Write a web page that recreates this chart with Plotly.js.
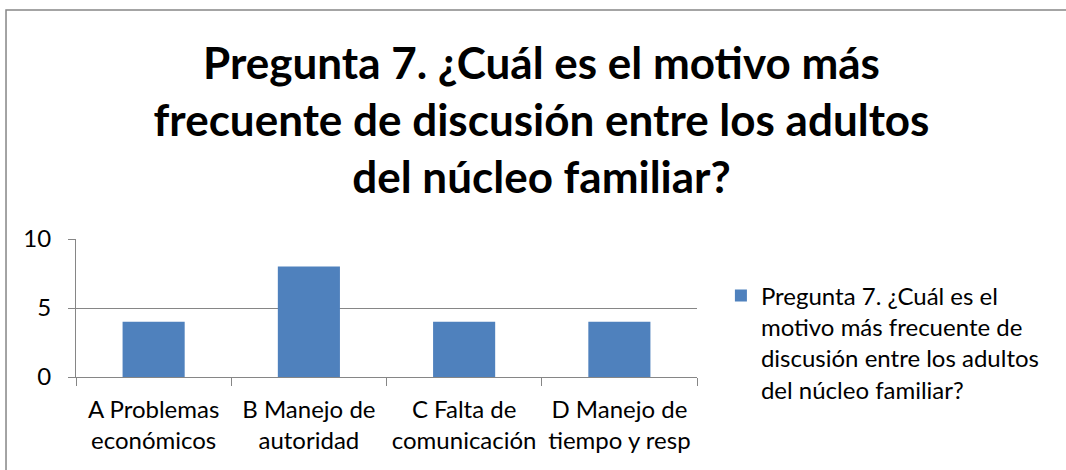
<!DOCTYPE html>
<html>
<head>
<meta charset="utf-8">
<script src="https://cdn.plot.ly/plotly-3.0.1.min.js"></script>
<style>
  body { margin: 0; background: #fff; }
  #chart { width: 1066px; height: 470px; }
</style>
</head>
<body>
<div id="chart"></div>
<script>
// Datos del gráfico
var categorias = [
    'A Problemas<br>económicos',
    'B Manejo de<br>autoridad',
    'C Falta de<br>comunicación',
    'D Manejo de<br>tiempo y resp'
];
var valores = [4, 8, 4, 4];
var nombreSerie = 'Pregunta 7. ¿Cuál es el<br>motivo más frecuente de<br>discusión entre los adultos<br>del núcleo familiar?';
var titulo = 'Pregunta 7. ¿Cuál es el motivo más<br>frecuente de discusión entre los adultos<br>del núcleo familiar?';

var CHART = document.getElementById('chart');

var data = [{
    x: categorias,
    y: valores,
    type: 'bar',
    name: nombreSerie,
    marker: { color: '#4F81BD' },
    showlegend: true
}];

var layout = {
    width: 1066,
    height: 470,
    margin: { l: 76, r: 369, t: 239, b: 93 },
    paper_bgcolor: '#ffffff',
    plot_bgcolor: '#ffffff',
    font: { family: 'Lato, "Open Sans", sans-serif', size: 24, color: '#000000' },
    title: {
        text: titulo,
        font: { family: 'Lato, "Open Sans", sans-serif', size: 44, color: '#000000', weight: 'bold' },
        xref: 'container', yref: 'container',
        x: 0.508, y: 1 - 79 / 470,
        xanchor: 'center', yanchor: 'top'
    },
    bargap: 0.6,
    xaxis: {
        showgrid: false,
        showline: true,
        linecolor: '#868686',
        linewidth: 1,
        ticks: 'outside',
        tickson: 'boundaries',
        ticklen: 8,
        tickcolor: '#868686',
        tickfont: { size: 24 },
        ticklabelstandoff: 11,
        fixedrange: true
    },
    yaxis: {
        range: [0, 10],
        dtick: 5,
        showgrid: true,
        gridcolor: '#868686',
        gridwidth: 1,
        showline: true,
        linecolor: '#868686',
        ticks: 'outside',
        ticklen: 7,
        tickcolor: '#868686',
        tickfont: { size: 24 },
        ticklabelstandoff: 12,
        zeroline: false,
        fixedrange: true
    },
    legend: {
        x: 1.0385, y: 0.75,
        xanchor: 'left', yanchor: 'top',
        valign: 'top',
        font: { size: 24 },
        bgcolor: 'rgba(0,0,0,0)'
    },
    shapes: [{
        type: 'rect',
        xref: 'paper', yref: 'paper',
        x0: -0.1127, x1: 1.9,
        y0: -0.9, y1: 2.659,
        line: { color: '#868686', width: 1.5 },
        fillcolor: 'rgba(0,0,0,0)'
    }]
};

var config = { responsive: false, displayModeBar: false };

Plotly.newPlot(CHART, data, layout, config);
</script>
</body>
</html>
